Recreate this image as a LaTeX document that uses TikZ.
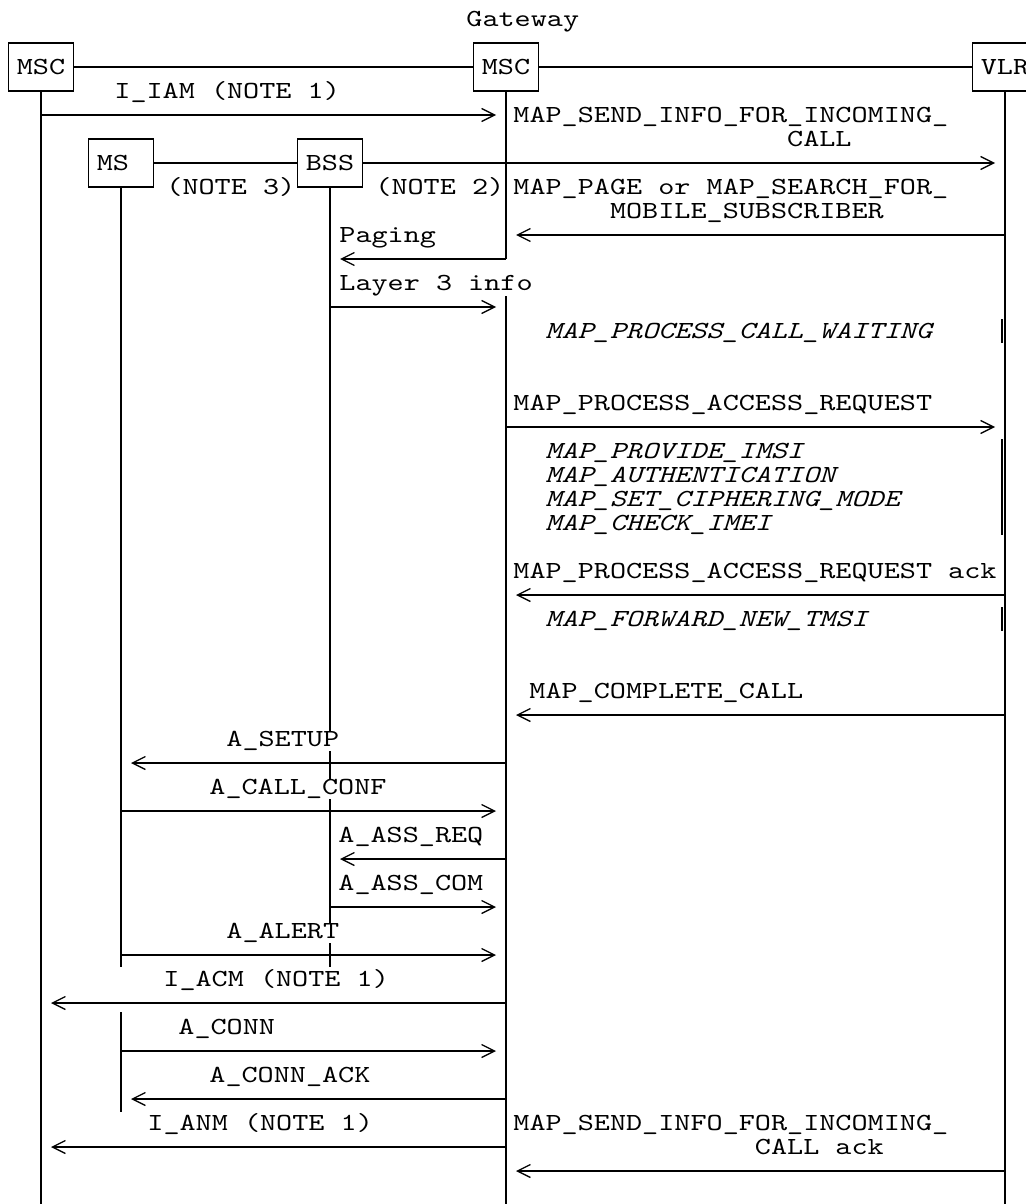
\documentclass[tikz,border=0pt]{standalone}
\usepackage{fontspec}
\setmonofont{lmmono10-regular.otf}[ItalicFont=lmmono10-italic.otf,FakeStretch=1.25]
\usetikzlibrary{arrows.meta,positioning}
\newcommand{\mapfont}{\ttfamily\fontsize{12.27pt}{12pt}\selectfont}
\newcommand{\ind}[1]{\hspace*{#1\fontcharwd\font`M}}
\tikzset{
    every picture/.style={line join=miter},
    entity/.style={draw,line width=0.65pt,minimum width=32.5pt,minimum height=24pt,
      text width=24.2pt,inner xsep=4.15pt,inner ysep=0pt,align=left},
    life/.style={line width=0.65pt},
    msg/.style={-{Straight Barb[length=6.5pt,width=6.5pt]},line width=0.65pt,
      shorten >=5pt},
    lbl/.style={anchor=base west,inner sep=0pt,fill=white,align=left},
    action/.style={anchor=base west,inner sep=0pt,align=left,font=\mapfont\itshape}
}
\begin{document}
\begin{tikzpicture}[x=0.5pt,y=-0.5pt,font=\mapfont]
  \useasboundingbox (0,0) rectangle (1026,1204);
  \coordinate (bottom) at (0,1204);
  % entities
  \node[entity] (msc) at (41,67) {MSC};
  \node[entity] (gmsc) at (506,67) {MSC};
  \node[entity] (vlr) at (1005,67) {VLR};
  \node[entity] (ms) at (121,163) {MS};
  \node[entity] (bss) at (330,163) {BSS};
  \node[lbl] (gw) at (466,26.5) {Gateway};
  \draw[life] (msc) -- (gmsc) -- (vlr);
  \draw[life] (ms) -- (bss);
  \coordinate (r163) at (0,163);
  \draw[life] (bss) -- (gmsc |- r163);
  \node[lbl] (note3) at (166,194.5) {(NOTE 3)};
  \node[lbl] (note2) at (375,194.5) {(NOTE 2)};
  % lifelines
  \coordinate (pg) at (0,259);
  \coordinate (l3) at (0,291);
  \coordinate (cut) at (0,967);
  \coordinate (msa) at (0,1012);
  \coordinate (msb) at (0,1112);
  \draw[life] (msc.south) -- (msc |- bottom);
  \draw[life] (vlr.south) -- (vlr |- bottom);
  \draw[life] (gmsc.south) -- (gmsc |- pg);
  \draw[life] (gmsc |- l3) -- (gmsc |- bottom);
  \draw[life] (ms.south) -- (ms |- cut);
  \draw[life] (ms |- msa) -- (ms |- msb);
  \draw[life] (bss.south) -- (bss |- cut);
  \foreach \a/\b in {319/343,439/535,607/631}
    \draw[life] (1002,\a) -- (1002,\b);
  % messages
  \foreach \from/\to/\y/\lx/\txt in {
    msc/gmsc/115/114/{I\_IAM (NOTE 1)},
    gmsc/vlr/163/513/{MAP\_SEND\_INFO\_FOR\_INCOMING\_\\\ind{17}CALL},
    vlr/gmsc/235/513/{MAP\_PAGE or MAP\_SEARCH\_FOR\_\\\ind{6}MOBILE\_SUBSCRIBER},
    gmsc/bss/259/339/{Paging},
    bss/gmsc/307/339/{Layer 3 info},
    gmsc/vlr/427/513/{MAP\_PROCESS\_ACCESS\_REQUEST},
    vlr/gmsc/595/513/{MAP\_PROCESS\_ACCESS\_REQUEST ack},
    vlr/gmsc/715/529/{MAP\_COMPLETE\_CALL},
    gmsc/ms/763/226/{A\_SETUP},
    ms/gmsc/811/209/{A\_CALL\_CONF},
    gmsc/bss/859/338/{A\_ASS\_REQ},
    bss/gmsc/907/338/{A\_ASS\_COM},
    ms/gmsc/955/226/{A\_ALERT},
    gmsc/msc/1003/163/{I\_ACM (NOTE 1)},
    ms/gmsc/1051/178/{A\_CONN},
    gmsc/ms/1099/209/{A\_CONN\_ACK},
    gmsc/msc/1147/147/{I\_ANM (NOTE 1)},
    vlr/gmsc/1171/513/{MAP\_SEND\_INFO\_FOR\_INCOMING\_\\\ind{15}CALL ack}}{
    \coordinate (row) at (0,\y);
    \draw[msg] (\from |- row) -- (\to |- row);
    \node[lbl] (m\y) at (\lx,\y-16.5) {\txt};
  }
  % VLR actions
  \node[action] (wait) at (545,338.5) {MAP\_PROCESS\_CALL\_WAITING};
  \node[action] (auth) at (545,530.5) {MAP\_PROVIDE\_IMSI\\MAP\_AUTHENTICATION\\
    MAP\_SET\_CIPHERING\_MODE\\MAP\_CHECK\_IMEI};
  \node[action] (tmsi) at (545,626.5) {MAP\_FORWARD\_NEW\_TMSI};
\end{tikzpicture}
\end{document}
